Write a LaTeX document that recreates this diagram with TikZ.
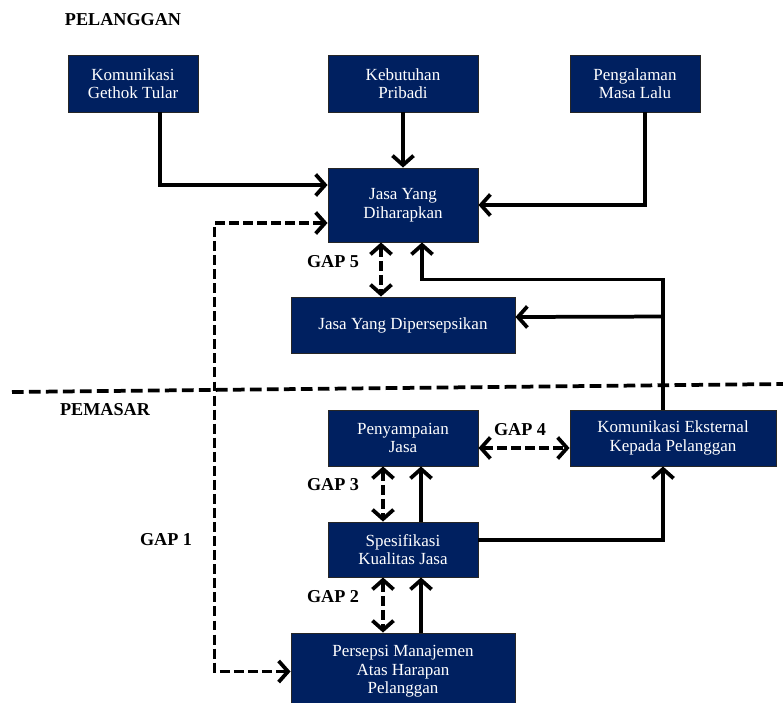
\documentclass[tikz,border=0pt]{standalone}
\usepackage{fontspec}
\setmainfont{Liberation Serif}
\usetikzlibrary{arrows.meta,calc,shadows}
\definecolor{boxblue}{HTML}{002060}
\tikzset{
  gapmodel/.style={
    x=0.03cm, y=-0.03cm,
    box/.style={
        draw=black!85,
        fill=boxblue,
        text=white,
        align=center,
        line width=0.8pt,
        inner sep=2pt,
        font=\fontsize{14.5}{15.8}\selectfont,
        drop shadow={shadow xshift=1.2pt, shadow yshift=-1.2pt, opacity=0.35},
    },
    lbl/.style={font=\bfseries\fontsize{15.5}{17}\selectfont, inner sep=1pt},
    arr/.style={line width=3.2pt, -{Straight Barb[length=8pt,width=18pt]}},
    darr/.style={line width=3.2pt, dash pattern=on 8.5pt off 3.5pt,
        {Straight Barb[length=8pt,width=18pt]}-{Straight Barb[length=8pt,width=18pt]}},
    divider/.style={line width=3.2pt, dash pattern=on 10pt off 4.5pt}
  }
}

\begin{document}
\begin{tikzpicture}[gapmodel]
    \useasboundingbox (0,0) rectangle (783,703);

    % sisi pelanggan
    \node[lbl] (pelanggan) at (123,20) {PELANGGAN};
    \node[box, minimum width=3.9cm, minimum height=1.71cm] (gethok) at (133,83.5) {Komunikasi\\Gethok Tular};
    \node[box, minimum width=4.5cm, minimum height=1.71cm] (butuh) at (403,83.5) {Kebutuhan\\Pribadi};
    \node[box, minimum width=3.9cm, minimum height=1.71cm] (alami) at (635,83.5) {Pengalaman\\Masa Lalu};
    \node[box, minimum width=4.5cm, minimum height=2.22cm] (harap) at (403,205) {Jasa Yang\\Diharapkan};
    \node[box, minimum width=6.72cm, minimum height=1.68cm] (persepsi) at (403,325) {Jasa Yang Dipersepsikan};

    \draw[divider] (12,392) -- (783,384);

    % sisi pemasar
    \node[lbl] (pemasar) at (105,410) {PEMASAR};
    \node[box, minimum width=4.5cm, minimum height=1.68cm] (sampai) at (403,438) {Penyampaian\\Jasa};
    \node[box, minimum width=6.18cm, minimum height=1.68cm] (eksternal) at (673,438) {Komunikasi Eksternal\\Kepada Pelanggan};
    \node[box, minimum width=4.5cm, minimum height=1.65cm] (spek) at (403,549.5) {Spesifikasi\\Kualitas Jasa};
    \node[box, minimum width=6.72cm, minimum height=2.31cm] (manaj) at (403,671.5) {Persepsi Manajemen\\Atas Harapan\\Pelanggan};

    \node[lbl] (gap1) at (166,540) {GAP 1};
    \node[lbl] (gap2) at (333,597) {GAP 2};
    \node[lbl] (gap3) at (333,485) {GAP 3};
    \node[lbl] (gap4) at (520,430) {GAP 4};
    \node[lbl] (gap5) at (333,262) {GAP 5};

    % panah
    \draw[arr] ($(gethok.south)+(27,0)$) |- ($(harap.west)+(0,-20)$);
    \draw[arr] (butuh) -- (harap);
    \draw[arr] ($(alami.south)+(10,0)$) |- (harap.east);
    \draw[darr] ($(harap.west)+(0,18)$) -| ($(manaj.west)+(-76,0)$) |- (manaj.west);
    \draw[darr] ($(harap.south)+(-22,0)$) -- ($(persepsi.north)+(-22,0)$);
    \draw[arr] ($(eksternal.north)+(-10,0)$) -- ++(0,-130) -| ($(harap.south)+(19,0)$);
    \draw[arr] ($(eksternal.north)+(-10,-93)$) -- ($(persepsi.east)+(0,-8)$);
    \draw[darr] ($(sampai.east)+(0,10)$) -- ($(eksternal.west)+(0,10)$);
    \draw[darr] ($(sampai.south)+(-20,0)$) -- ($(spek.north)+(-20,0)$);
    \draw[arr] ($(spek.north)+(18,0)$) -- ($(sampai.south)+(18,0)$);
    \draw[darr] ($(spek.south)+(-20,0)$) -- ($(manaj.north)+(-20,0)$);
    \draw[arr] ($(manaj.north)+(18,0)$) -- ($(spek.south)+(18,0)$);
    \draw[arr] ($(spek.east)+(0,-9.5)$) -| ($(eksternal.south)+(-10,0)$);
\end{tikzpicture}
\end{document}
